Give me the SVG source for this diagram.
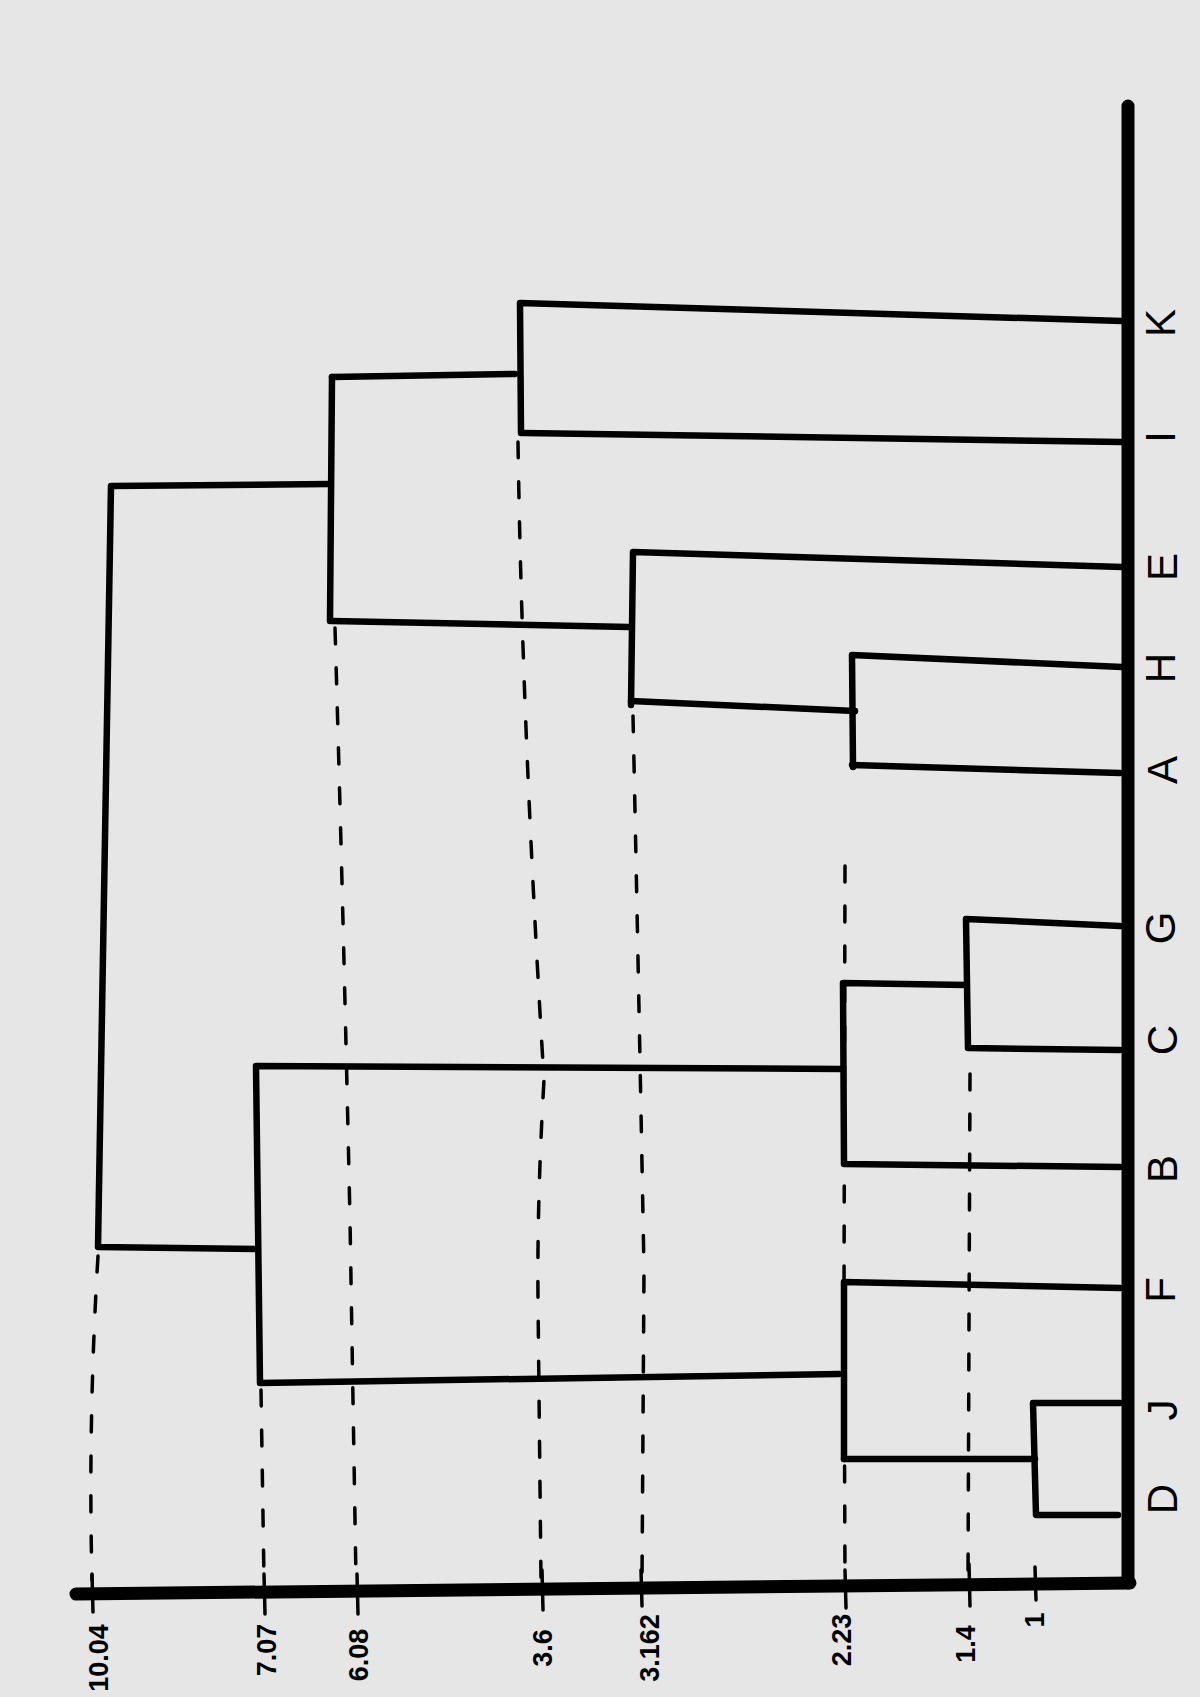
<svg xmlns="http://www.w3.org/2000/svg" width="1200" height="1697" viewBox="0 0 1200 1697">
  <style>
    .bg { fill: #e6e6e6; }
    .branch { fill: none; stroke: #000; stroke-width: 6.5; stroke-linecap: round; stroke-linejoin: round; }
    .axis { fill: none; stroke: #000; stroke-width: 13; stroke-linecap: round; stroke-linejoin: round; }
    .tick { fill: none; stroke: #000; stroke-width: 3.5; stroke-linecap: round; }
    .guide { fill: none; stroke: #000; stroke-width: 3.5; stroke-linecap: round; stroke-dasharray: 16 24; }
    .num { font-family: "Liberation Sans", Arial, sans-serif; font-size: 27px; font-weight: bold; fill: #000; text-anchor: middle; dominant-baseline: central; }
    .leaf { font-family: "Liberation Sans", Arial, sans-serif; font-size: 42px; fill: #000; text-anchor: middle; dominant-baseline: central; }
  </style>
  <rect class="bg" x="0" y="0" width="1200" height="1697"/>

  <g id="axes">
    <path class="axis" d="M1128,106 L1128,1583"/>
    <path class="axis" d="M76,1594 L1130,1583"/>
  </g>

  <g id="ticks">
    <path class="tick" d="M92,1574 L93,1612"/>
    <path class="tick" d="M264,1574 L265,1614"/>
    <path class="tick" d="M357,1574 L358,1614"/>
    <path class="tick" d="M542,1570 L543,1610"/>
    <path class="tick" d="M641,1570 L642,1606"/>
    <path class="tick" d="M845,1570 L846,1608"/>
    <path class="tick" d="M969,1564 L970,1606"/>
    <path class="tick" d="M1035,1567 L1036,1600"/>
  </g>

  <g id="guides">
    <path class="guide" d="M98,1256 Q88,1420 92,1580"/>
    <path class="guide" d="M261,1390 L264,1580"/>
    <path class="guide" d="M335,628 Q343,900 350,1220 L356,1580"/>
    <path class="guide" d="M518,442 Q522,720 544,1080 Q537,1200 538,1300 L541,1580"/>
    <path class="guide" d="M633,716 Q638,950 644,1270 L642,1580"/>
    <path class="guide" d="M845,866 L844,1300 L845,1580"/>
    <path class="guide" d="M970,1074 L968,1580"/>
  </g>

  <g id="connectors">
    <path class="branch" d="M1122,321 L520,303 L521,433"/>
    <path class="branch" d="M1122,442 L523,433"/>
    <path class="branch" d="M515,374 L332,377"/>
    <path class="branch" d="M1122,567 L633,552 L631,705"/>
    <path class="branch" d="M1122,667 L852,655 L853,767"/>
    <path class="branch" d="M1120,773 L852,765"/>
    <path class="branch" d="M855,711 L631,701"/>
    <path class="branch" d="M629,627 L332,621"/>
    <path class="branch" d="M332,377 L330,621"/>
    <path class="branch" d="M330,484 L111,486 L98,1247 L256,1249"/>
    <path class="branch" d="M843,1069 L256,1066 L260,1383 L839,1374"/>
    <path class="branch" d="M1120,926 L966,919 L968,1048 L1120,1050"/>
    <path class="branch" d="M966,985 L843,983 L844,1164 L1120,1167"/>
    <path class="branch" d="M1120,1288 L844,1282 L844,1459"/>
    <path class="branch" d="M1120,1403 L1033,1403 L1036,1515 L1118,1515"/>
    <path class="branch" d="M1035,1459 L844,1459"/>
  </g>

  <g id="height-labels">
    <text class="num" transform="translate(99,1658) rotate(-90)">10.04</text>
    <text class="num" transform="translate(267,1650) rotate(-90)">7.07</text>
    <text class="num" transform="translate(359,1655) rotate(-90)">6.08</text>
    <text class="num" transform="translate(543,1648) rotate(-90)">3.6</text>
    <text class="num" transform="translate(650,1648) rotate(-90)">3.162</text>
    <text class="num" transform="translate(842,1640) rotate(-90)">2.23</text>
    <text class="num" transform="translate(966,1644) rotate(-90)">1.4</text>
    <text class="num" transform="translate(1035,1620) rotate(-90)">1</text>
  </g>

  <g id="node-K"><text class="leaf" transform="translate(1160,323) rotate(-90)">K</text></g>
  <g id="node-I"><text class="leaf" transform="translate(1160,437) rotate(-90)">I</text></g>
  <g id="node-E"><text class="leaf" transform="translate(1162,567) rotate(-90)">E</text></g>
  <g id="node-H"><text class="leaf" transform="translate(1160,668) rotate(-90)">H</text></g>
  <g id="node-A"><text class="leaf" transform="translate(1162,770) rotate(-90)">A</text></g>
  <g id="node-G"><text class="leaf" transform="translate(1160,928) rotate(-90)">G</text></g>
  <g id="node-C"><text class="leaf" transform="translate(1162,1040) rotate(-90)">C</text></g>
  <g id="node-B"><text class="leaf" transform="translate(1162,1169) rotate(-90)">B</text></g>
  <g id="node-F"><text class="leaf" transform="translate(1160,1290) rotate(-90)">F</text></g>
  <g id="node-J"><text class="leaf" transform="translate(1162,1410) rotate(-90)">J</text></g>
  <g id="node-D"><text class="leaf" transform="translate(1162,1499) rotate(-90)">D</text></g>
</svg>
